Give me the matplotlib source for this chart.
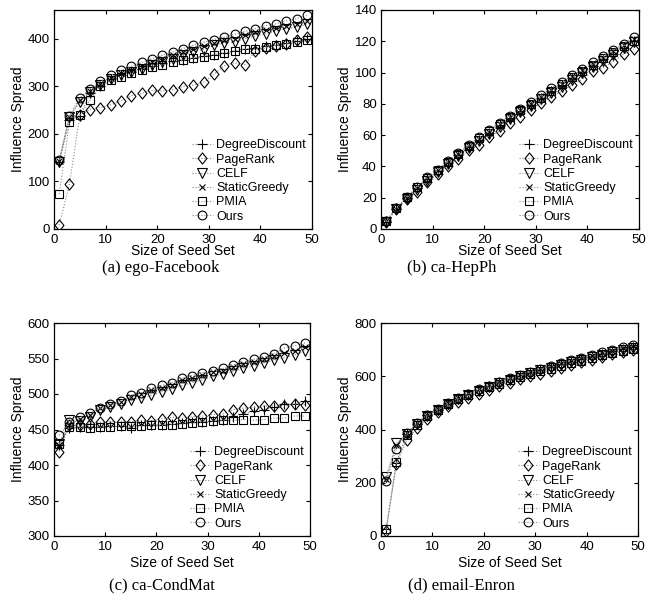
import matplotlib
matplotlib.use("Agg")
import matplotlib.pyplot as plt
from matplotlib.path import Path
import numpy as np

plt.rcParams['font.family'] = ['Liberation Sans', 'DejaVu Sans']

seed_sizes = list(range(1, 50, 2))
methods = ['DegreeDiscount', 'PageRank', 'CELF', 'StaticGreedy', 'PMIA', 'Ours']

# MATLAB-like diamond (slightly taller than wide)
diamond = Path([(0, 1), (0.8, 0), (0, -1), (-0.8, 0), (0, 1)],
               [Path.MOVETO, Path.LINETO, Path.LINETO, Path.LINETO, Path.CLOSEPOLY])
markers = ['+', diamond, 'v', 'x', 's', 'o']
msizes = [6.5, 8, 7, 5, 5.5, 6.3]

# (a) ego-Facebook
fb_degree = [140, 228, 238, 285, 300, 315, 323, 330, 337, 343, 348, 352, 356, 360, 363, 366, 370, 374, 378, 380, 384, 387, 390, 394, 399]
fb_pagerank = [8, 94, 239, 251, 255, 261, 269, 280, 285, 291, 290, 293, 299, 302, 308, 325, 343, 349, 345, 374, 380, 385, 388, 397, 404]
fb_celf = [140, 236, 267, 288, 302, 316, 323, 330, 337, 344, 351, 358, 365, 372, 377, 386, 390, 393, 400, 405, 410, 416, 421, 424, 430]
fb_static = [142, 235, 270, 290, 305, 318, 327, 335, 342, 350, 358, 366, 372, 378, 385, 390, 396, 400, 407, 413, 418, 422, 427, 430, 436]
fb_pmia = [73, 225, 240, 271, 300, 312, 320, 328, 335, 340, 344, 350, 354, 359, 361, 366, 370, 374, 378, 378, 383, 386, 389, 392, 396]
fb_ours = [145, 238, 276, 294, 310, 323, 334, 342, 350, 358, 365, 372, 379, 386, 392, 398, 403, 409, 415, 421, 427, 431, 437, 442, 449]

# (b) ca-HepPh
hp_degree = [4.5, 13, 20, 26.5, 32, 37, 42.5, 47.5, 52.5, 57, 61.5, 66.5, 71, 75.5, 79.5, 83.5, 88, 92, 96.5, 100.5, 104.5, 108.5, 112, 116, 120]
hp_pagerank = [4.7, 12.8, 19, 23.5, 30.3, 35, 40.5, 44.6, 50.5, 54, 59, 62.7, 68, 71.8, 76, 80.4, 84.6, 88, 92, 95.7, 100.8, 103, 107, 111.7, 115]
hp_celf = [4.5, 12.5, 19, 25, 31, 36.5, 41.5, 46.5, 51.5, 56, 61, 65.5, 70, 74.5, 78.5, 83, 87, 91, 95.5, 99.5, 103.5, 107.5, 111.5, 115.5, 119.5]
hp_static = [4.8, 13, 20, 26.5, 32.5, 37.5, 43, 48, 53, 57.5, 62, 67, 71.5, 76, 80, 84.5, 89, 93, 97.5, 101.5, 105.5, 109.5, 113.5, 117.5, 121.5]
hp_pmia = [4.8, 13.2, 20.2, 26.8, 32.5, 37.5, 43, 48, 53, 58, 62.5, 67, 71.5, 76, 80, 84, 88.5, 92.5, 97, 101, 105, 109, 113, 117, 120.5]
hp_ours = [5, 13.5, 20.5, 27, 33, 38, 43.5, 48.5, 53.5, 58.5, 63, 68, 72.5, 77, 81, 85.5, 90, 94, 98.5, 102.5, 106.5, 110.5, 114.5, 118.5, 122.5]

# (c) ca-CondMat
cm_degree = [428, 452, 454, 454, 454, 455, 455, 452, 456, 457, 457, 458, 459, 460, 461, 462, 464, 467, 472, 476, 478, 481, 486, 486, 490]
cm_pagerank = [419, 456, 456, 458, 460, 461, 460, 461, 463, 462, 465, 467, 466, 468, 469, 471, 472, 478, 480, 481, 483, 483, 483, 486, 485]
cm_celf = [430, 463, 462, 468, 478, 481, 486, 492, 494, 498, 503, 507, 512, 516, 520, 525, 528, 532, 536, 540, 544, 548, 551, 555, 560]
cm_static = [428, 456, 465, 470, 480, 484, 489, 496, 500, 505, 509, 513, 520, 523, 527, 531, 533, 538, 542, 545, 549, 553, 558, 560, 566]
cm_pmia = [430, 453, 453, 452, 453, 454, 455, 455, 455, 456, 456, 457, 458, 459, 461, 462, 463, 463, 464, 463, 464, 466, 466, 469, 469]
cm_ours = [442, 460, 467, 473, 480, 486, 490, 498, 502, 508, 512, 516, 522, 526, 530, 533, 536, 541, 545, 549, 552, 557, 565, 568, 572]

# (d) email-Enron
en_degree = [25, 276, 382, 422, 453, 475, 497, 516, 533, 549, 563, 577, 590, 602, 613, 624, 634, 645, 655, 664, 674, 684, 693, 702, 710]
en_pagerank = [20, 272, 360, 405, 440, 467, 487, 505, 520, 533, 548, 562, 576, 590, 600, 610, 620, 632, 642, 652, 662, 672, 682, 690, 697]
en_celf = [222, 348, 383, 420, 452, 473, 494, 514, 530, 546, 560, 573, 587, 600, 611, 622, 632, 643, 653, 662, 672, 681, 690, 699, 707]
en_static = [215, 342, 386, 425, 456, 477, 499, 518, 536, 551, 566, 580, 593, 605, 616, 627, 637, 648, 658, 667, 677, 687, 696, 705, 713]
en_pmia = [25, 278, 378, 418, 450, 472, 495, 513, 528, 545, 558, 572, 585, 597, 608, 618, 628, 640, 650, 658, 668, 678, 687, 695, 703]
en_ours = [205, 328, 385, 424, 455, 476, 498, 517, 535, 552, 565, 579, 592, 605, 617, 628, 638, 651, 661, 670, 681, 691, 700, 710, 718]

panels = [
    dict(series=[fb_degree, fb_pagerank, fb_celf, fb_static, fb_pmia, fb_ours],
         ylim=(0, 460), yticks=[0, 100, 200, 300, 400], caption='(a) ego-Facebook',
         box=(54, 312, 10, 229), cap=(161, 268), xlp=-1),
    dict(series=[hp_degree, hp_pagerank, hp_celf, hp_static, hp_pmia, hp_ours],
         ylim=(0, 140), yticks=[0, 20, 40, 60, 80, 100, 120, 140], caption='(b) ca-HepPh',
         box=(381, 639, 10, 229), cap=(452, 268), xlp=-1),
    dict(series=[cm_degree, cm_pagerank, cm_celf, cm_static, cm_pmia, cm_ours],
         ylim=(300, 600), yticks=[300, 350, 400, 450, 500, 550, 600], caption='(c) ca-CondMat',
         box=(54, 310, 323, 536), cap=(162, 585), xlp=2),
    dict(series=[en_degree, en_pagerank, en_celf, en_static, en_pmia, en_ours],
         ylim=(0, 800), yticks=[0, 200, 400, 600, 800], caption='(d) email-Enron',
         box=(381, 638, 323, 536), cap=(461, 585), xlp=2),
]

W, H = 665, 614
fig = plt.figure(figsize=(W / 100, H / 100), dpi=100)

for p in panels:
    l, r, t, b = p['box']
    ax = fig.add_axes([l / W, 1 - b / H, (r - l) / W, (b - t) / H])
    for vals, m, ms, name in zip(p['series'], markers, msizes, methods):
        ax.plot(seed_sizes, vals, linestyle=':', color='#888888', linewidth=0.8,
                marker=m, markersize=ms, markerfacecolor='none',
                markeredgecolor='black', markeredgewidth=0.8, label=name)
    ax.set_xlim(0, 50)
    ax.set_ylim(*p['ylim'])
    ax.set_xticks([0, 10, 20, 30, 40, 50])
    ax.set_yticks(p['yticks'])
    ax.tick_params(direction='in', top=True, right=True, length=3, labelsize=9.5)
    ax.tick_params(axis='x', pad=3.5)
    ax.tick_params(axis='y', pad=3)
    ax.set_xlabel('Size of Seed Set', fontsize=10, labelpad=p['xlp'])
    ax.set_ylabel('Influence Spread', fontsize=10, labelpad=2)
    for s in ax.spines.values():
        s.set_linewidth(0.9)
    ax.legend(loc='lower right', frameon=False, fontsize=9, labelspacing=0.18,
              handlelength=1.7, handletextpad=0.25, borderpad=0.2, borderaxespad=0.3)
    cx, cy = p['cap']
    fig.text(cx / W, 1 - cy / H, p['caption'], ha='center', va='center',
             fontsize=12, family='Liberation Serif')

fig.savefig('out.png', dpi=100)
